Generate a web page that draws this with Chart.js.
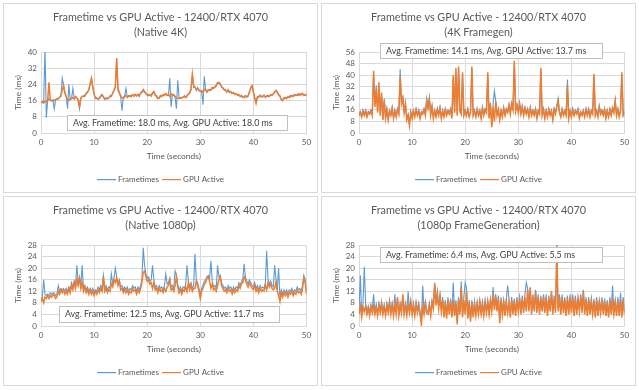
<!DOCTYPE html>
<html><head><meta charset="utf-8">
<script src="https://cdn.jsdelivr.net/npm/chart.js@4.4.1/dist/chart.umd.min.js"></script>
<style>
html,body{margin:0;padding:0;background:#fff;width:639px;height:390px;overflow:hidden}
.panel{position:absolute;width:315px;height:190px;border:1px solid #D9D9D9;box-sizing:border-box;background:#fff}
.panel canvas{position:absolute;left:0;top:0}
</style></head><body>
<div class="panel" style="left:3px;top:3px"><canvas id="c1" width="313" height="188"></canvas></div>
<div class="panel" style="left:321px;top:3px"><canvas id="c2" width="313" height="188"></canvas></div>
<div class="panel" style="left:3px;top:196px"><canvas id="c3" width="313" height="188"></canvas></div>
<div class="panel" style="left:321px;top:196px"><canvas id="c4" width="313" height="188"></canvas></div>
<script>
// sampling grid: 0 .. 50 s every 0.25 s
const timeSeconds = Array.from({length: 201}, (_, i) => i * 0.25);
const xTicks = [0, 10, 20, 30, 40, 50];
const yTicks4K = [0, 8, 16, 24, 32, 40];
const yTicks4KFG = [0, 8, 16, 24, 32, 40, 48, 56];
const yTicks1080 = [0, 4, 8, 12, 16, 20, 24, 28];
const seriesNames = ['Frametimes', 'GPU Active'];

// Native 4K
const frametimes4K = [
15.2,15.5,14.8,42, 7.5,16,17,16.2, 15.8,16.3,12,16.5, 17,16.8,17.8,18, 27,23.5,19.5,18,
12,24,16.5,17, 22,17,18,17.5, 16,12,17,18, 18.5,18,19.5,20.5, 21,24.5,26.5,22.5,
19.5,17,17.5,16.5, 17.5,18.5,19,17.5, 16.5,17.5,16.8,17, 18.5,18,20,21, 22.5,36,21,19.5,
18,11,17.5,18.5, 22,17.5,18.5,18, 18.5,18.8,18,19.2, 18.5,19.2,18,19.8, 20.5,21,20,19.8,
18.5,19,18.7,18.5, 20,20.2,18.5,18.5, 17.5,17,18,18.5, 18.5,19,19.2,18.5, 18.5,27,13,19,
18.5,17.5,12,26, 17.5,17,17.5,17.5, 18.5,17.8,18,19.5, 19.5,21,28.5,22.5, 23,21,22.5,21.5,
20.5,20.5,14,28, 21.5,20,21,21.5, 21,22,22.5,22.5, 23,25,24.5,24.5, 22.5,22.5,21,21.5,
20,21.5,20.5,20, 19.8,19.5,19.5,19, 19,18.5,18.5,18, 17.5,18,18.5,17.5, 18,20.5,22,23,
20.5,17.5,15.5,18, 17.5,18.8,18.2,17.8, 18.8,17.5,18.5,18, 18.5,18.5,19,19, 20.5,20.5,20.5,18.5,
18.5,16.5,16.5,17.5, 17,17.5,17.5,18, 18.5,18,18.5,19, 19,18.5,19.5,18.8, 19.5,19,19,18.5,
19];
const gpuActive4K = [
15.5,15,15.8,15.2, 15.6,16,25,16, 16.2,15.8,16.5,16.3, 16.8,17,17.5,18.5, 21,23.5,20,18,
16.5,16,16.8,17, 17.5,16.8,18,17.2, 16.5,13,17.5,18, 18,18.5,19.5,20, 21.5,24,27,23,
19,17.5,17,16.8, 17,18,19,18, 17,16.8,17.2,17.5, 18,18.5,19.5,21, 23,37,22,20,
18.5,17.5,17,18, 18.5,17.8,18,18.5, 18,19,18.5,19, 18.2,19,18.5,19.5, 20,21.5,20.5,19.5,
19,18.5,19,18.2, 19.5,20.5,19,18, 17,17.5,18.5,18, 19,18.5,19.5,18.8, 19,18,19.5,18.5,
19,18.2,17.5,17, 17,17.5,17.2,17.8, 18,17.5,18.5,19, 20,22,29,23, 22.5,21.5,22,21,
20.5,21,20,21.5, 21,20.5,21.5,21, 21.5,22.5,22,23, 23.5,24.5,25,24, 23,22,21.5,21,
20.5,21,20,20.5, 19.5,20,19,19.5, 18.5,19,18,18.5, 18,17.5,18.2,18, 18.5,20,22.5,23.5,
20,17,14.5,17.5, 18,18.5,17.8,18.2, 18.5,17.8,18,18.5, 18,19,18.5,19.5, 20,21,20,19,
18,16.5,16,17, 17.5,17,18,17.5, 18,18.5,18,18.8, 18.5,19,18.6,19.2, 18.8,19.5,18.5,19,
18.5];

// 4K Framegen
const frametimes4KFG = [
13,15,12,16, 13,16,12,15, 14,16,13,40, 20,33,15,31, 14,26,10,24,
11,17,10,16, 13,18,11,16, 12,17,14,44, 22,25,15,21, 10,13,6,15,
11,16,12,17, 13,16,11,15, 14,17,13,24, 18,25,13,19, 11,16,12,17,
13,18,11,16, 12,17,13,16, 14,17,11,38, 15,42,13,44, 16,14,40,13,
16,13,17,12, 15,44,13,16, 12,17,13,16, 11,18,13,17, 15,40,11,21,
5,20,29,22, 13,17,10,16, 12,18,13,17, 15,20,14,21, 17,48,16,20,
15,21,14,19, 13,18,14,17, 12,18,13,16, 13,17,11,16, 14,43,13,17,
11,16,12,17, 13,16,10,17, 14,19,24,15, 12,17,13,16, 13,37,11,16,
12,17,13,16, 14,17,11,15, 13,16,12,17, 13,17,12,16, 14,39,13,16,
12,19,14,16, 13,17,11,16, 12,17,13,18, 15,23,13,17, 12,16,40,13,
15];
const gpuActive4KFG = [
12,14,11,15, 12,15,11,14, 13,15,12,43, 18,30,14,35, 12,28,9,22,
10,16,9,15, 12,17,10,15, 11,16,13,39, 20,24,14,20, 9,12,5,14,
10,15,11,16, 12,15,10,14, 13,16,12,22, 17,23,12,18, 10,15,11,16,
12,17,10,15, 11,16,12,15, 13,16,10,40, 14,45,12,46, 15,13,42,12,
15,12,16,11, 14,46,12,15, 11,16,12,15, 10,17,12,16, 14,42,10,20,
4,18,8,22, 12,16,9,15, 11,17,12,16, 14,19,13,20, 16,50,15,19,
14,20,13,18, 12,17,13,16, 11,17,12,15, 12,16,10,15, 13,45,12,16,
10,15,11,16, 12,15,9,16, 13,18,22,14, 11,16,12,15, 12,33,10,15,
11,16,12,15, 13,16,10,14, 12,15,11,16, 12,16,11,15, 13,41,12,15,
11,18,13,15, 12,16,10,15, 11,16,12,17, 14,22,12,16, 11,15,42,12,
14];

// Native 1080p
const frametimes1080 = [
9.5,10,16,11, 10.5,11,10.5,11.5, 11,11.5,11.5,10.5, 11,14,12,13, 12.5,13,12,13,
12,13.5,12.5,15, 13.5,15.5,14,21, 15,17,14,21, 13,14,12.5,13.5, 12,13,12,13,
11.5,12.5,12,13.5, 12.5,14,13,17.5, 13,14,12.5,13.5, 13,18,14.5,16.5, 20,17,15,16,
13.5,14,12.5,13.5, 12.5,13.5,12,13, 12.5,14,13,13.5, 12,13.5,12.5,14, 16,27,21,18,
16.5,17,15.5,16, 21,16,13.5,14, 12.5,14,13,13.5, 12.5,14,18,14.5, 15,16.5,13.5,14,
13,19,17.5,14.5, 12.5,13.5,12,13.5, 13,14.5,21,15.5, 13.5,15,13,14, 25,16,15,13,
10.5,13,14,15.5, 16,17,17.5,16.5, 22.5,15.5,13.5,14, 13,21,17,17.5, 15,14,13,13.5,
12.5,14,13,13.5, 12,13.5,12.5,13.5, 13,15,14,15.5, 16,21.5,17,15.5, 14.5,16,15,14,
13.5,15,13,14, 12.5,14,13,13.5, 13,15,26,16, 14.5,15.5,14,13.5, 21,16,13,20,
9.5,12.5,11,12.5, 11.5,12.5,11,12.5, 12,13,11.5,12.5, 12,13.5,12.5,13, 12,14,17.5,16,
12];
const gpuActive1080 = [
8.5,9.5,8,10, 9.5,10.5,9.5,10.5, 10,11,10.5,9.5, 10,12,11,12.5, 11.5,12.5,11,12,
11,13,11.5,14, 12.5,15,13,16, 14,16.5,13,15, 12,13.5,11.5,12.5, 11,12.5,11,12,
10.5,12,11,12.5, 11.5,13,12,17, 12,13,11.5,12.5, 12,14.5,13.5,16, 15,16.5,14,15.5,
12.5,13,11.5,12.5, 11.5,12.5,11,12, 11.5,13,12,12.5, 11,12.5,11.5,13, 15,18.5,19,17,
15.5,16,14.5,15, 13,15,12.5,13, 11.5,13,12,12.5, 11.5,13,12,13.5, 14,16,12.5,13,
12,14,17,13.5, 11.5,12.5,11,12.5, 12,13.5,12,15, 12.5,14,12,13, 13,15.5,14,12,
9.5,12,13,14.5, 15,16.5,17,15.5, 13,14.5,12.5,13, 12,14,16,17, 14,13,12,12.5,
11.5,13,12,12.5, 11,12.5,11.5,12.5, 12,14,13,14.5, 15,17,16,14.5, 13.5,15,14,13,
12.5,14,12,13, 11.5,13,12,12.5, 12,14,12.5,15, 13.5,14.5,13,12.5, 13,15,12,10.5,
8.5,11.5,10,11.5, 10.5,11.5,10,11.5, 11,12,10.5,11.5, 11,12.5,11.5,12, 11,13,16.5,15,
11];

// 1080p FrameGeneration
const frametimes1080FG = [
5,17.5,4.5,7.5, 20.5,7.5,5,7, 5,7.5,5.5,11, 5,7.5,4.5,8, 5.5,8.5,5,7.5,
4.5,8,5.5,9, 5,8,4.5,11, 5,9.5,4.5,8, 5.5,10,5,8, 4.5,12,5.5,9,
5,8,4.5,8.5, 5.5,8,5,2, 14,5,8.5,5.5, 5,8,4.5,9, 7,15,8,12,
7,11,6,10, 4,9,3.5,10, 5,9.5,4,15, 4.5,9,1.5,10, 5,15.5,4,10,
15,13,3.5,9, 2.5,9,4,8.5, 4.5,8.5,5,9, 5,8.5,4.5,9, 5.5,9,5,9.5,
6,13.5,6.5,11, 6,10.5,2,10, 5,9,4.5,9.5, 14,9,4,10, 5,9.5,4.5,10,
6,10,5,10.5, 5.5,11,15,13, 6,13.5,5,11, 6,12.5,5.5,11, 5,10.5,6,11,
5.5,11,4.5,10.5, 6,12,5,10.5, 5.5,22,6,11, 5,11,5.5,10, 4.5,10.5,5,11,
5.5,11,4.5,10.5, 5,10,6,11, 5.5,12.5,5,10, 4.5,10,5,9.5, 5,9.5,4,10,
4.5,9,5.5,10, 5,9.5,4.5,9, 4,10,5,14, 5,9,4.5,10, 4.5,11.5,4,10,
5];
const gpuActive1080FG = [
4,7,3,6.5, 5,7,4,6, 3.5,6.5,4.5,7, 4,6.5,3.5,7, 4.5,7.5,4,6.5,
3.5,7,4.5,8, 4,7,3.5,7.5, 4,10,3.5,7, 4.5,11,4,7, 3.5,7.5,4.5,8,
4,7,3.5,7.5, 4.5,7,4,0.5, 7,4,7.5,4.5, 4,7,3.5,8, 6,14.5,7,11,
6,10,5,9, 3,8,2.5,9, 4,8.5,3,9, 3.5,8,0.5,9, 4,13,3,9,
4,12,2.5,8, 1.5,8,3,7.5, 3.5,7.5,4,8, 4,7.5,3.5,8, 4.5,8,4,8.5,
5,11,5.5,10, 5,9.5,1,9, 4,8,3.5,8.5, 4.5,8,3,9, 4,8.5,3.5,9,
5,9,4,9.5, 4.5,10,5,12.5, 5,13,4,10, 5,12,4.5,10, 4,9.5,5,10,
4.5,10,3.5,9.5, 5,12,4,9.5, 4.5,28,5,10, 4,10,4.5,9, 3.5,9.5,4,10,
4.5,10,3.5,9.5, 4,9,5,10, 4.5,12,4,9, 3.5,9,4,8.5, 4,8.5,3,9,
3.5,8,4.5,9, 4,8.5,3.5,8, 3,9,4,8.5, 4,8,3.5,9, 3.5,8.5,3,9,
4];

const BLUE = '#5B9BD5', ORANGE = '#ED7D31', GRID = '#D9D9D9', TXT = '#595959';
const FONT = 'Lato';

function fitFont(ctx, text, target, base) {
  ctx.font = base + 'px ' + FONT;
  const w = ctx.measureText(text).width;
  return base * target / w;
}

const panelDecor = {
  id: 'panelDecor',
  afterDatasetsDraw(chart, args, o) {
    const ctx = chart.ctx, n = o.note;
    ctx.save();
    ctx.fillStyle = '#fff';
    ctx.fillRect(n.x, n.y, n.w, n.h);
    ctx.strokeStyle = '#BFBFBF'; ctx.lineWidth = 1;
    ctx.strokeRect(n.x + 0.5, n.y + 0.5, n.w, n.h);
    const fs = fitFont(ctx, n.text, n.tw, 10);
    ctx.font = fs.toFixed(2) + 'px ' + FONT;
    ctx.fillStyle = '#404040';
    ctx.textBaseline = 'middle'; ctx.textAlign = 'left';
    ctx.fillText(n.text, n.x + 6, n.y + n.h / 2 + 0.5);
    ctx.restore();
  },
  afterDraw(chart, args, o) {
    const ctx = chart.ctx;
    ctx.save();
    ctx.fillStyle = TXT;
    ctx.textAlign = 'center'; ctx.textBaseline = 'middle';
    const ts = fitFont(ctx, o.title[0], 215, 12);
    ctx.font = ts.toFixed(2) + 'px ' + FONT;
    o.title.forEach((line, i) => ctx.fillText(line, chart.width / 2, 13.5 + i * 15));
    // legend
    ctx.font = '8px ' + FONT;
    const lineLen = 19, gap = 2, itemGap = 3;
    const w0 = ctx.measureText(seriesNames[0]).width, w1 = ctx.measureText(seriesNames[1]).width;
    const total = lineLen + gap + w0 + itemGap + lineLen + gap + w1;
    let x = chart.width / 2 - total / 2;
    const y = 175;
    ctx.textAlign = 'left';
    [[BLUE, seriesNames[0], w0], [ORANGE, seriesNames[1], w1]].forEach(([c, t, w]) => {
      ctx.fillStyle = c;
      ctx.fillRect(x, y, lineLen, 1.2);
      x += lineLen + gap;
      ctx.fillStyle = TXT;
      ctx.fillText(t, x, y + 0.5);
      x += w + itemGap;
    });
    ctx.restore();
  }
};

function makePanel(id, title, ft, ga, yTicks, note) {
  const toXY = arr => arr.map((v, i) => ({x: timeSeconds[i], y: v}));
  new Chart(document.getElementById(id), {
    type: 'line',
    data: {
      datasets: [
        {label: seriesNames[0], data: toXY(ft), borderColor: BLUE, borderWidth: 1.1, pointRadius: 0, order: 1},
        {label: seriesNames[1], data: toXY(ga), borderColor: ORANGE, borderWidth: 1.5, pointRadius: 0, order: 0}
      ]
    },
    options: {
      responsive: false, animation: false, devicePixelRatio: 1,
      layout: {padding: {top: 48, right: 10.5, bottom: 29, left: 0}},
      plugins: {legend: {display: false}, title: {display: false}, tooltip: {enabled: false},
        panelDecor: {title: title, note: note}},
      scales: {
        x: {type: 'linear', min: 0, max: 50,
          afterBuildTicks: s => { s.ticks = xTicks.map(v => ({value: v})); },
          afterFit: s => { s.height = 30; },
          grid: {color: GRID, drawTicks: false},
          border: {color: GRID},
          ticks: {color: TXT, font: {family: FONT, size: 8}, padding: 5, maxRotation: 0, autoSkip: false},
          title: {display: true, text: 'Time (seconds)', color: TXT, font: {family: FONT, size: 8.4}, padding: {top: 0, bottom: 2}}
        },
        y: {min: 0, max: yTicks[yTicks.length - 1],
          afterBuildTicks: s => { s.ticks = yTicks.map(v => ({value: v})); },
          afterFit: s => { s.width = 37; },
          grid: {color: GRID, drawTicks: false},
          border: {color: GRID},
          ticks: {color: TXT, font: {family: FONT, size: 8}, padding: 4, autoSkip: false},
          title: {display: true, text: 'Time (ms)', color: TXT, font: {family: FONT, size: 8.4}, padding: {top: 9, bottom: 0}}
        }
      }
    },
    plugins: [panelDecor]
  });
}

makePanel('c1', ['Frametime vs GPU Active - 12400/RTX 4070', '(Native 4K)'], frametimes4K, gpuActive4K, yTicks4K,
  {text: 'Avg. Frametime: 18.0 ms, Avg. GPU Active: 18.0 ms', tw: 200, x: 63, y: 111, w: 220, h: 15});
makePanel('c2', ['Frametime vs GPU Active - 12400/RTX 4070', '(4K Framegen)'], frametimes4KFG, gpuActive4KFG, yTicks4KFG,
  {text: 'Avg. Frametime: 14.1 ms, Avg. GPU Active: 13.7 ms', tw: 201, x: 58, y: 39, w: 222, h: 15});
makePanel('c3', ['Frametime vs GPU Active - 12400/RTX 4070', '(Native 1080p)'], frametimes1080, gpuActive1080, yTicks1080,
  {text: 'Avg. Frametime: 12.5 ms, Avg. GPU Active: 11.7 ms', tw: 199, x: 55, y: 109, w: 220, h: 16});
makePanel('c4', ['Frametime vs GPU Active - 12400/RTX 4070', '(1080p FrameGeneration)'], frametimes1080FG, gpuActive1080FG, yTicks1080,
  {text: 'Avg. Frametime: 6.4 ms, Avg. GPU Active: 5.5 ms', tw: 189, x: 58, y: 50, w: 222, h: 15});
</script>
</body></html>
